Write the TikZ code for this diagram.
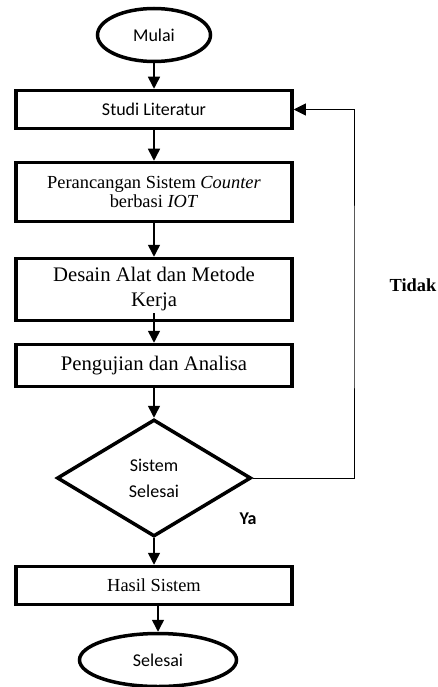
\documentclass[tikz,border=0pt]{standalone}
\usepackage{fontspec}
\setmainfont{Liberation Serif}
\newfontfamily\carlito{Carlito}
\usetikzlibrary{shapes.geometric,arrows.meta}
\tikzset{
	prosesbox/.style={draw, line width=3.5pt, minimum width=276pt, inner sep=0pt, align=center},
	terminal/.style={draw, ellipse, line width=3.5pt, inner sep=0pt, font=\carlito\fontsize{18}{22}\selectfont},
	keputusan/.style={draw, diamond, line width=3.5pt, inner sep=0pt, minimum width=194pt, minimum height=117pt, align=center, font=\carlito\fontsize{18}{26}\selectfont},
	panah/.style={line width=1.5pt, -{Triangle[length=12pt,width=12pt]}},
	balikpanah/.style={line width=1pt, -{Triangle[length=12pt,width=12pt]}},
}

\begin{document}
\begin{tikzpicture}[x=1pt, y=-1pt]
			%%%%% START %%%%%
			\useasboundingbox (0,0) rectangle (437,687);
			
			\node[terminal, minimum width=113pt, minimum height=53pt] (mulai) at (154,35) {Mulai};
			\node[prosesbox, minimum height=38pt, font=\carlito\fontsize{18}{22}\selectfont] (studi) at (154,109.5) {Studi Literatur};
			\node[prosesbox, minimum height=59pt, font=\fontsize{18.4}{19}\selectfont] (rancang) at (154,192) {Perancangan Sistem \textit{Counter}\\berbasi \textit{IOT}};
			\node[prosesbox, minimum height=62pt, font=\fontsize{20.7}{25}\selectfont] (desain) at (154,289.5) {Desain Alat dan Metode\\Kerja};
			\node[prosesbox, minimum height=42pt, font=\fontsize{20.7}{25}\selectfont] (uji) at (154,365.5) {Pengujian dan Analisa};
			\node[keputusan] (cek) at (154,478) {Sistem\\Selesai};
			\node[prosesbox, minimum height=38pt, font=\fontsize{18.4}{22}\selectfont] (hasil) at (154,585.5) {Hasil Sistem};
			\node[terminal, minimum width=157pt, minimum height=53pt] (selesai) at (158,660) {Selesai};
			
			\node[font=\bfseries\fontsize{18.4}{22}\selectfont] (tidak) at (413,285) {Tidak};
			\node[font=\carlito\bfseries\fontsize{18}{22}\selectfont] (ya) at (248,519) {Ya};
			
			\draw[panah] (mulai.south) -- (studi.north);
			\draw[panah] (studi.south) -- (rancang.north);
			\draw[panah] (rancang.south) -- (desain.north);
			\draw[panah] ([yshift=9pt]desain.south) -- (uji.north);
			\draw[panah] (uji.south) -- (cek.north);
			\draw[panah] (cek.south) -- (hasil.north);
			\draw[panah] (hasil.south -| selesai.north) -- (selesai.north);
			
			\coordinate (balik) at (354,300);
			\draw[balikpanah] (cek.east) -| (balik) |- (studi.east);
			%%%%% END %%%%%
\end{tikzpicture}
\end{document}
